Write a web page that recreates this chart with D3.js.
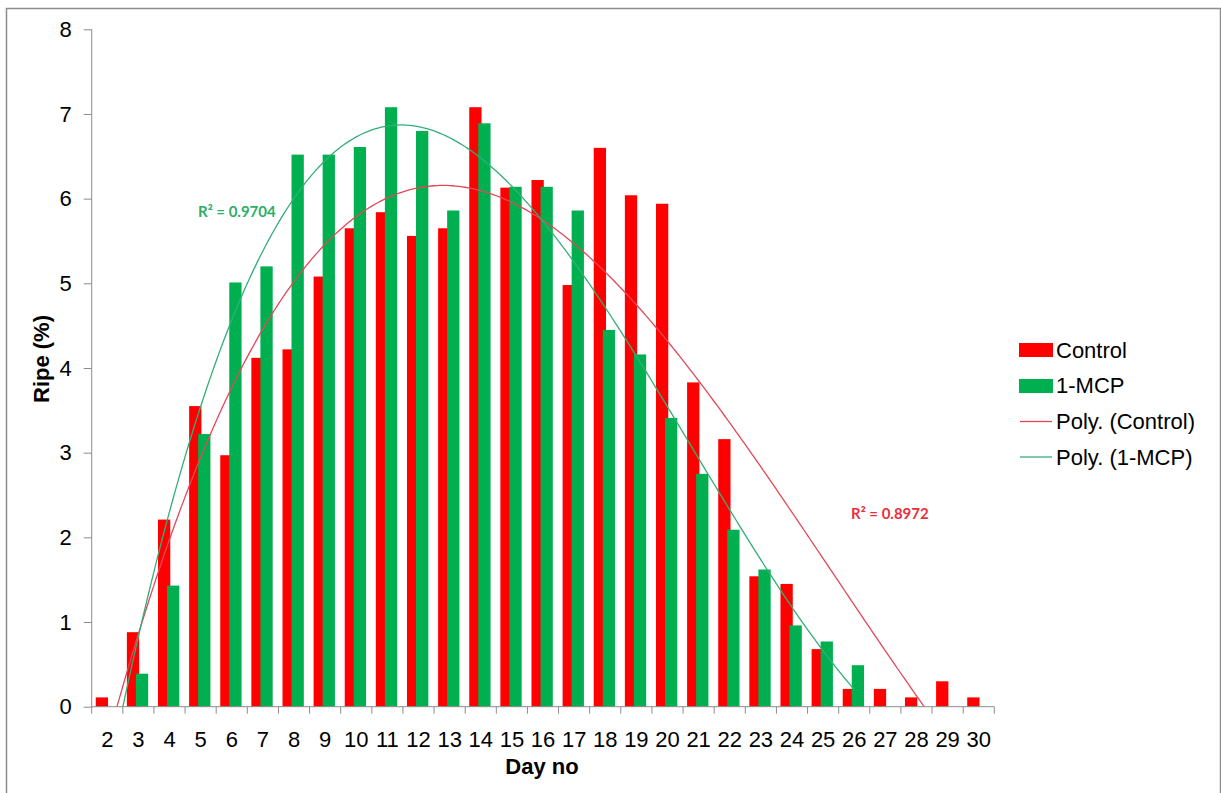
<!DOCTYPE html>
<html>
<head>
<meta charset="utf-8">
<script src="https://cdnjs.cloudflare.com/ajax/libs/d3/7.8.5/d3.min.js"></script>
<style>
  body { margin: 0; background: #fff; }
  svg { display: block; font-family: "Liberation Sans", Arial, sans-serif; }
</style>
</head>
<body>
<svg id="chart" width="1221" height="793"></svg>
<script>
// chart data
const days = [2,3,4,5,6,7,8,9,10,11,12,13,14,15,16,17,18,19,20,21,22,23,24,25,26,27,28,29,30];
const control = [0.11,0.88,2.21,3.55,2.97,4.12,4.22,5.08,5.65,5.84,5.56,5.65,7.08,6.13,6.22,4.98,6.60,6.04,5.94,3.83,3.16,1.54,1.45,0.68,0.21,0.21,0.11,0.30,0.11];
const mcp = [0,0.39,1.43,3.22,5.01,5.20,6.52,6.52,6.61,7.08,6.80,5.86,6.89,6.14,6.14,5.86,4.45,4.16,3.41,2.75,2.09,1.62,0.96,0.77,0.49,null,null,null,null];
const yTicks = [0,1,2,3,4,5,6,7,8];
const seriesNames = ["Control", "1-MCP", "Poly. (Control)", "Poly. (1-MCP)"];
const r2Labels = ["R\u00b2 = 0.8972", "R\u00b2 = 0.9704"];

const svg = d3.select("#chart");
const plotL = 91.7, plotR = 994.3, plotT = 29.3, plotB = 706.7;

// least squares polynomial fit (x = category index 1..n, as the spreadsheet does)
function polyfit(xs, ys, order) {
  const n = order + 1;
  const A = [];
  for (let i = 0; i < n; i++) {
    A.push([]);
    for (let j = 0; j <= n; j++) A[i].push(0);
  }
  xs.forEach((x, k) => {
    for (let i = 0; i < n; i++) {
      for (let j = 0; j < n; j++) A[i][j] += Math.pow(x, i + j);
      A[i][n] += ys[k] * Math.pow(x, i);
    }
  });
  for (let i = 0; i < n; i++) {
    let p = i;
    for (let r = i + 1; r < n; r++) if (Math.abs(A[r][i]) > Math.abs(A[p][i])) p = r;
    [A[i], A[p]] = [A[p], A[i]];
    for (let r = 0; r < n; r++) {
      if (r === i) continue;
      const f = A[r][i] / A[i][i];
      for (let c = i; c <= n; c++) A[r][c] -= f * A[i][c];
    }
  }
  return A.map((row, i) => row[n] / row[i]);
}
const evalPoly = (c, x) => c.reduce((s, a, i) => s + a * Math.pow(x, i), 0);

const x = d3.scaleBand().domain(days).range([plotL, plotR]).paddingInner(0).paddingOuter(0);
const y = d3.scaleLinear().domain([0, 8]).range([plotB, plotT]);
const bw = x.bandwidth();

// outer frame
svg.append("rect")
  .attr("x", 6.5).attr("y", 8.5).attr("width", 1214).attr("height", 800)
  .attr("fill", "none").attr("stroke", "#8c8c8c").attr("stroke-width", 1.5);

svg.append("defs").append("clipPath").attr("id", "plotclip")
  .append("rect").attr("x", plotL).attr("y", plotT).attr("width", plotR - plotL).attr("height", plotB - plotT);

// bars
svg.append("g").selectAll("rect")
  .data(days.map((d, i) => ({ d, v: control[i] })))
  .enter().append("rect")
  .attr("x", e => x(e.d) + bw * 0.13)
  .attr("y", e => y(e.v))
  .attr("width", bw * 0.395)
  .attr("height", e => plotB - y(e.v))
  .attr("fill", "#ff0000");

svg.append("g").selectAll("rect")
  .data(days.map((d, i) => ({ d, v: mcp[i] })).filter(e => e.v))
  .enter().append("rect")
  .attr("x", e => x(e.d) + bw * 0.42)
  .attr("y", e => y(e.v))
  .attr("width", bw * 0.395)
  .attr("height", e => plotB - y(e.v))
  .attr("fill", "#00b050");

// trend lines (3rd order)
const idx = days.map((d, i) => i + 1);
const mx = idx.filter((_, i) => mcp[i] !== null), my = mcp.filter(v => v !== null);
const cCoef = polyfit(idx, control, 3);
const mCoef = polyfit(mx, my, 3);
const xPix = t => plotL + (t - 0.5) * bw;
const line = (c, t0, t1) => d3.line().x(t => xPix(t)).y(t => y(evalPoly(c, t)))(d3.range(t0, t1 + 0.001, 0.1));

const trend = svg.append("g").attr("clip-path", "url(#plotclip)");
trend.append("path").attr("d", line(cCoef, 1, idx.length))
  .attr("fill", "none").attr("stroke", "#e2475a").attr("stroke-width", 1.3);
trend.append("path").attr("d", line(mCoef, 1, d3.max(mx)))
  .attr("fill", "none").attr("stroke", "#35ad78").attr("stroke-width", 1.3);

// axes
const yAxis = svg.append("g").attr("transform", `translate(${plotL},0)`)
  .call(d3.axisLeft(y).tickValues(yTicks).tickFormat(d3.format("d")).tickSize(8).tickPadding(12));
const xAxis = svg.append("g").attr("transform", `translate(0,${plotB})`)
  .call(d3.axisBottom(x).tickSize(0).tickPadding(25));
// category boundary ticks
xAxis.append("g").selectAll("line")
  .data(days.concat(["end"]))
  .enter().append("line")
  .attr("x1", (d, i) => plotL + i * bw).attr("x2", (d, i) => plotL + i * bw)
  .attr("y1", 0).attr("y2", 7);
[yAxis, xAxis].forEach(g => {
  g.selectAll(".domain, line").attr("stroke", "#8c8c8c");
  g.selectAll("text").attr("font-size", 22).attr("fill", "#000").attr("font-family", "Liberation Sans, Arial, sans-serif");
});
yAxis.select(".domain").attr("d", `M0,${plotT}V${plotB}`);
xAxis.select(".domain").attr("d", `M${plotL},0H${plotR}`);

// axis titles
svg.append("text").attr("transform", "translate(49,359) rotate(-90)")
  .attr("text-anchor", "middle").attr("font-size", 22).attr("font-weight", "bold").text("Ripe (%)");
svg.append("text").attr("x", 542).attr("y", 774)
  .attr("text-anchor", "middle").attr("font-size", 22).attr("font-weight", "bold").text("Day no");

// R2 labels
svg.append("text").attr("x", 851).attr("y", 519).attr("fill", "#e8303c")
  .attr("font-family", "Lato, sans-serif").attr("font-weight", "bold").attr("font-size", 15).text(r2Labels[0]);
svg.append("text").attr("x", 198).attr("y", 217).attr("fill", "#2aae68")
  .attr("font-family", "Lato, sans-serif").attr("font-weight", "bold").attr("font-size", 15).text(r2Labels[1]);

// legend
const legend = svg.append("g").attr("transform", "translate(1019,0)");
const rows = [350, 385.5, 421.5, 457];
legend.append("rect").attr("x", 0).attr("y", 343).attr("width", 34).attr("height", 14).attr("fill", "#ff0000");
legend.append("rect").attr("x", 0).attr("y", 379).attr("width", 34).attr("height", 14).attr("fill", "#00b050");
legend.append("line").attr("x1", 1).attr("x2", 33).attr("y1", rows[2]).attr("y2", rows[2]).attr("stroke", "#e2475a").attr("stroke-width", 1.3);
legend.append("line").attr("x1", 1).attr("x2", 33).attr("y1", rows[3]).attr("y2", rows[3]).attr("stroke", "#35ad78").attr("stroke-width", 1.3);
legend.selectAll("text.lbl").data(seriesNames).enter().append("text")
  .attr("class", "lbl").attr("x", 37).attr("y", (d, i) => rows[i]).attr("dy", "0.35em")
  .attr("font-size", 22).attr("fill", "#000").text(d => d);
</script>
</body>
</html>
